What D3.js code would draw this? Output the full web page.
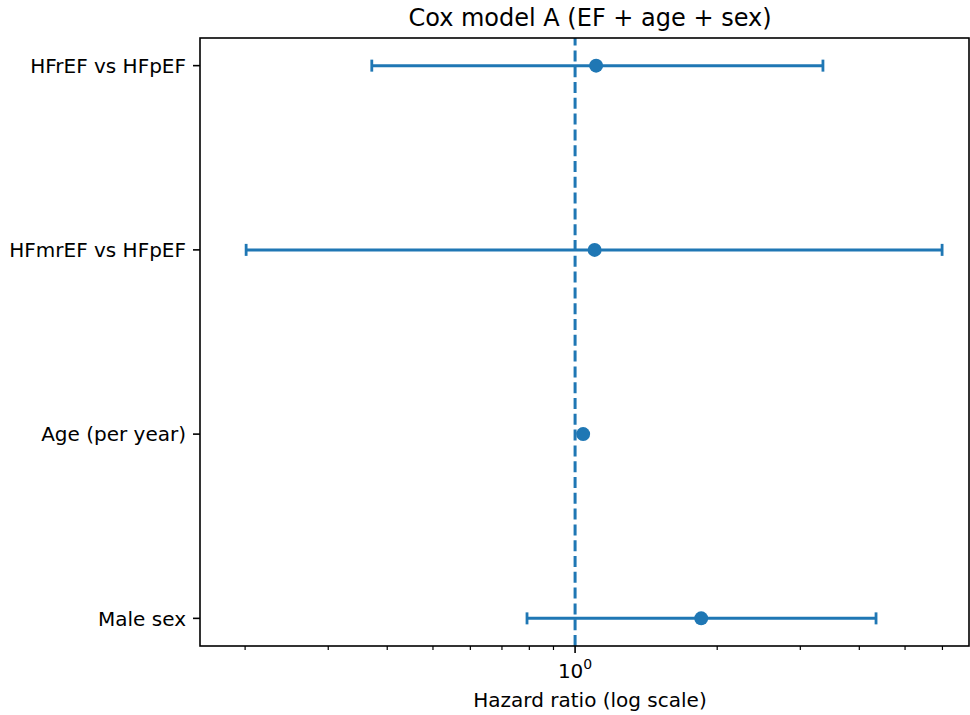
<!DOCTYPE html>
<html>
<head>
<meta charset="utf-8">
<script src="https://cdn.jsdelivr.net/npm/d3@7"></script>
<style>
  html, body { margin: 0; padding: 0; background: #fff; }
  svg { display: block; font-family: "DejaVu Sans", sans-serif; }
</style>
</head>
<body>
<svg id="chart" width="970" height="715"></svg>
<script>
// ---- data ----
const categories = ["HFrEF vs HFpEF", "HFmrEF vs HFpEF", "Age (per year)", "Male sex"];
const hazardRatio = [1.108, 1.10, 1.04, 1.85];
const ciLower = [0.371, 0.201, 1.03, 0.791];
const ciUpper = [3.35, 5.99, 1.05, 4.34];
const majorTicks = [1];
const majorTickBase = ["10"];
const majorTickExp = ["0"];
const minorTicks = [0.2, 0.3, 0.4, 0.5, 0.6, 0.7, 0.8, 0.9, 2, 3, 4, 5, 6];
const xDomain = [0.1605, 6.83];
const titleText = "Cox model A (EF + age + sex)";
const xLabelText = "Hazard ratio (log scale)";

(function () {
  const color = "#1f77b4";
  const mLeft = 200, mRight = 969, mTop = 38, mBottom = 646;
  const svg = d3.select("#chart");

  const x = d3.scaleLog().domain(xDomain).range([mLeft, mRight]);
  const y = d3.scaleLinear().domain([-0.15, categories.length - 1 + 0.15]).range([mTop, mBottom]);

  // reference line at HR = 1
  svg.append("line")
    .attr("x1", x(1)).attr("x2", x(1))
    .attr("y1", mBottom).attr("y2", mTop)
    .attr("stroke", color).attr("stroke-width", 3)
    .attr("stroke-dasharray", "11,4.8");

  const rows = categories.map((c, i) => ({c, i, hr: hazardRatio[i], lo: ciLower[i], hi: ciUpper[i]}));
  const g = svg.append("g");
  g.selectAll("line.ci").data(rows).join("line")
    .attr("class", "ci")
    .attr("x1", d => x(d.lo)).attr("x2", d => x(d.hi))
    .attr("y1", d => y(d.i)).attr("y2", d => y(d.i))
    .attr("stroke", color).attr("stroke-width", 3);
  g.selectAll("line.capl").data(rows).join("line")
    .attr("class", "capl")
    .attr("x1", d => x(d.lo)).attr("x2", d => x(d.lo))
    .attr("y1", d => y(d.i) - 6).attr("y2", d => y(d.i) + 6)
    .attr("stroke", color).attr("stroke-width", 2.8);
  g.selectAll("line.caph").data(rows).join("line")
    .attr("class", "caph")
    .attr("x1", d => x(d.hi)).attr("x2", d => x(d.hi))
    .attr("y1", d => y(d.i) - 6).attr("y2", d => y(d.i) + 6)
    .attr("stroke", color).attr("stroke-width", 2.8);
  g.selectAll("circle").data(rows).join("circle")
    .attr("cx", d => x(d.hr)).attr("cy", d => y(d.i))
    .attr("r", 7).attr("fill", color);

  // frame
  svg.append("rect")
    .attr("x", mLeft).attr("y", mTop)
    .attr("width", mRight - mLeft).attr("height", mBottom - mTop)
    .attr("fill", "none").attr("stroke", "#000").attr("stroke-width", 1.6);

  // x axis ticks
  const xAxisG = svg.append("g").attr("transform", `translate(0,${mBottom})`);
  xAxisG.selectAll("line.major").data(majorTicks).join("line")
    .attr("class", "major")
    .attr("x1", d => x(d)).attr("x2", d => x(d))
    .attr("y1", 0).attr("y2", 7)
    .attr("stroke", "#000").attr("stroke-width", 1.6);
  xAxisG.selectAll("line.minor").data(minorTicks).join("line")
    .attr("class", "minor")
    .attr("x1", d => x(d)).attr("x2", d => x(d))
    .attr("y1", 0).attr("y2", 4)
    .attr("stroke", "#000").attr("stroke-width", 1.2);
  const tl = xAxisG.selectAll("text.tl").data(majorTicks).join("text")
    .attr("class", "tl")
    .attr("x", d => x(d)).attr("y", 32)
    .attr("text-anchor", "middle")
    .attr("font-size", 20).attr("fill", "#000");
  tl.append("tspan").text((d, i) => majorTickBase[i]);
  tl.append("tspan").attr("font-size", 14).attr("dy", -9).text((d, i) => majorTickExp[i]);

  // y axis ticks
  const yAxisG = svg.append("g");
  yAxisG.selectAll("line").data(rows).join("line")
    .attr("x1", mLeft - 7).attr("x2", mLeft)
    .attr("y1", d => y(d.i)).attr("y2", d => y(d.i))
    .attr("stroke", "#000").attr("stroke-width", 1.6);
  yAxisG.selectAll("text").data(rows).join("text")
    .attr("x", mLeft - 14).attr("y", d => y(d.i))
    .attr("dy", "0.36em")
    .attr("text-anchor", "end")
    .attr("font-size", 20).attr("fill", "#000")
    .text(d => d.c);

  // title and axis label
  svg.append("text")
    .attr("x", 590).attr("y", 26)
    .attr("text-anchor", "middle").attr("font-size", 24).attr("fill", "#000")
    .text(titleText);
  svg.append("text")
    .attr("x", 590).attr("y", 707)
    .attr("text-anchor", "middle").attr("font-size", 20).attr("fill", "#000")
    .text(xLabelText);
})();
</script>
</body>
</html>
